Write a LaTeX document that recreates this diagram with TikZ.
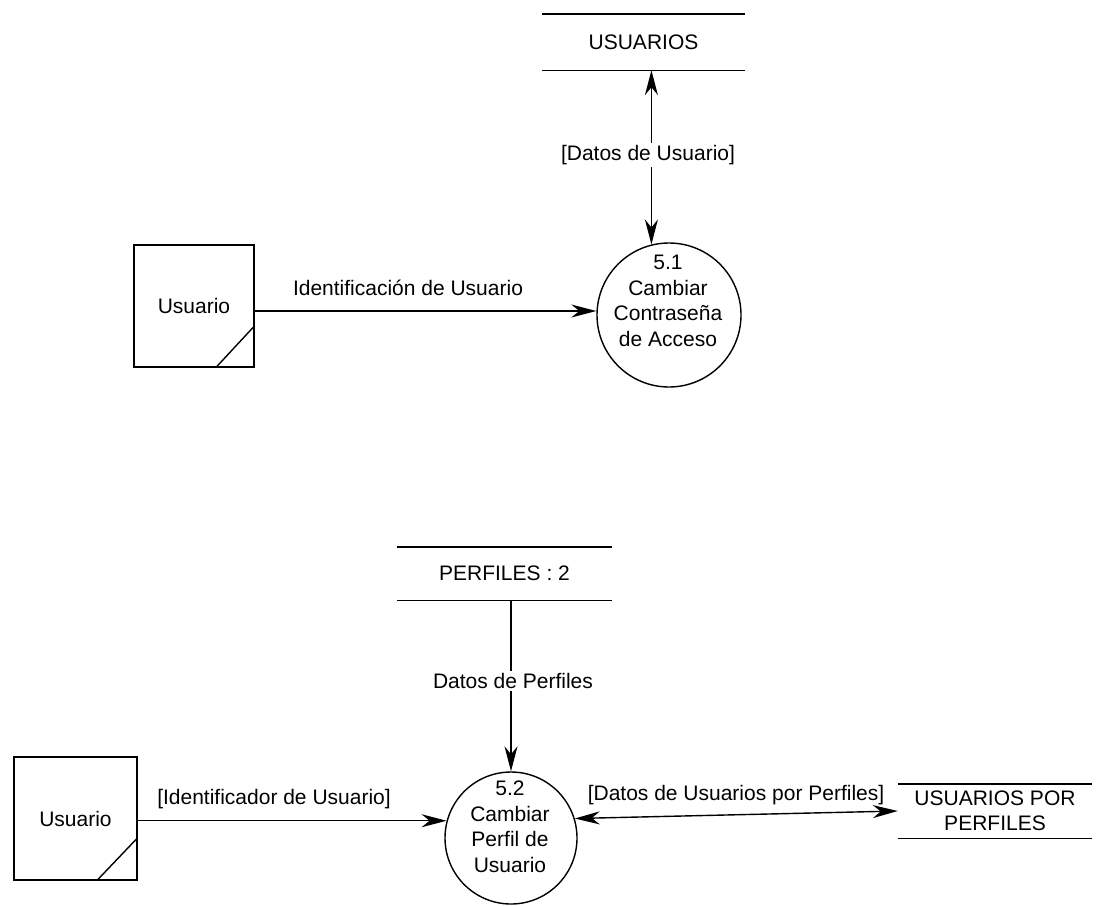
\documentclass[tikz,border=0pt]{standalone}
\usepackage{fontspec}
\setmainfont{Liberation Sans}
\usetikzlibrary{arrows.meta}
\tikzset{
  base/.style={font=\fontsize{21}{25.5}\selectfont, inner sep=0pt},
  ln/.style={line width=1.4pt},
  proc/.style={ln, circle, draw, inner sep=0pt},
  ptext/.style={base, align=center},
  entity/.style={base, ln, draw, rectangle},
  store/.style={base, rectangle, align=center},
  lbl/.style={base},
  lblw/.style={base, fill=white, inner sep=2pt},
  flow/.style={ln, -{Stealth[length=25pt, width=13pt, inset=8pt]}},
  biflow/.style={ln, {Stealth[length=25pt, width=13pt, inset=8pt]}-{Stealth[length=25pt, width=13pt, inset=8pt]}}
}
\begin{document}
\begin{tikzpicture}[x=1pt,y=-1pt]
\useasboundingbox (0,0) rectangle (1097,905);

% ---- upper diagram ----
\node[store, minimum width=203pt, minimum height=56pt] (s1) at (643.5,42) {USUARIOS};
\draw[ln] (s1.north west) -- (s1.north east) (s1.south west) -- (s1.south east);

\node[proc, minimum size=144pt] (p51) at (669,315) {};
\node[ptext] (t51) at (668,301) {5.1\\Cambiar\\Contraseña\\de Acceso};

\node[entity, minimum width=120pt, minimum height=122pt] (e1) at (194,306) {Usuario};
\draw[ln] ([xshift=-39pt]e1.south east) -- ([yshift=42pt]e1.south east);

\draw[flow] ([yshift=-5pt]e1.east) -- ([yshift=4pt]p51.west);
\node[lbl] (l1) at (408,288) {Identificación de Usuario};

\draw[biflow] (p51.104 |- s1.south) -- (p51.104);
\node[lblw] (l2) at (648,155) {[Datos de Usuario]};

% ---- lower diagram ----
\node[store, minimum width=215pt, minimum height=53pt] (s2) at (504.5,573.5) {PERFILES : 2};
\draw[ln] (s2.north west) -- (s2.north east) (s2.south west) -- (s2.south east);

\node[proc, minimum size=132pt] (p52) at (511,838) {};
\node[ptext] (t52) at (510,827) {5.2\\Cambiar\\Perfil de\\Usuario};

\node[entity, minimum width=123pt, minimum height=123pt] (e2) at (75.5,818.5) {Usuario};
\draw[ln] ([xshift=-41pt]e2.south east) -- ([yshift=43pt]e2.south east);

\node[store, minimum width=194pt, minimum height=54pt] (s3) at (995,811) {USUARIOS POR\\PERFILES};
\draw[ln] (s3.north west) -- (s3.north east) (s3.south west) -- (s3.south east);

\draw[flow] (p52.north |- s2.south) -- (p52.north);
\node[lblw] (l3) at (513,681) {Datos de Perfiles};

\draw[flow] (e2.east |- p52.165) -- (p52.165);
\node[lbl] (l4) at (274,799) {[Identificador de Usuario]};

\draw[biflow] (p52.17) -- (s3.west);
\node[lbl] (l5) at (736,795) {[Datos de Usuarios por Perfiles]};
\end{tikzpicture}
\end{document}
